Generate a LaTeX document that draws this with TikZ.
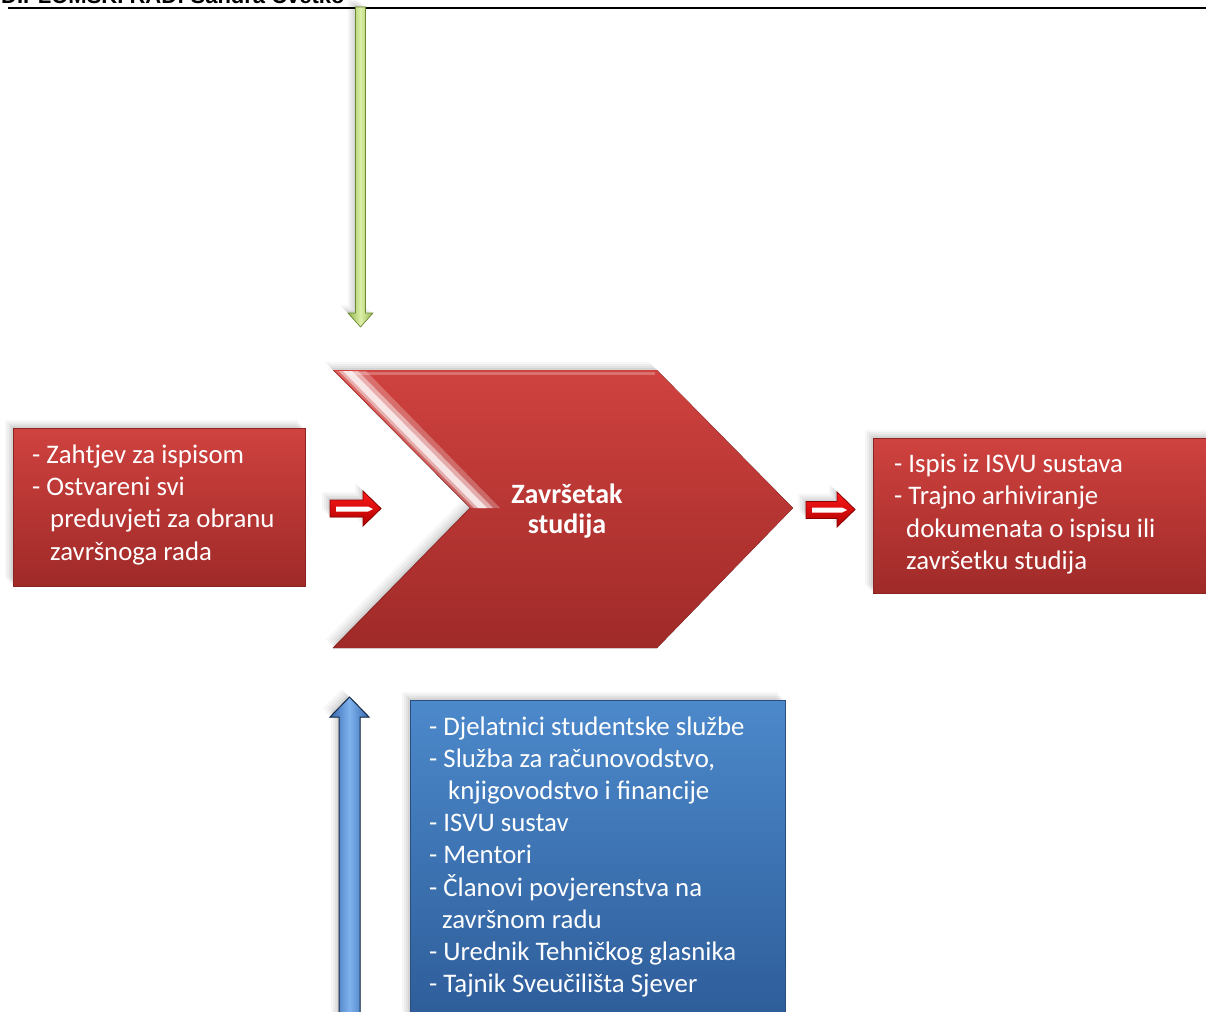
\documentclass[tikz,border=0pt]{standalone}
\usepackage{fontspec}
\setmainfont{Carlito}
\newfontfamily\zaglavlje{Liberation Sans}
\usetikzlibrary{shadows}
\definecolor{crvenagore}{HTML}{CF423F}
\definecolor{crvenadolje}{HTML}{9F2A28}
\definecolor{crvenarub}{HTML}{8C2422}
\definecolor{plavagore}{HTML}{4C89CB}
\definecolor{plavadolje}{HTML}{2C5A96}
\definecolor{plavarub}{HTML}{284F80}
\definecolor{zelena}{HTML}{92B84A}
\definecolor{zelenasvijetla}{HTML}{DDEFA8}
\definecolor{zelenatamna}{HTML}{6B8A30}
\definecolor{plava}{HTML}{3467AD}
\definecolor{plavasvijetla}{HTML}{7FB3EE}
\definecolor{plavatamna}{HTML}{182B48}
\definecolor{jarkocrvena}{HTML}{FF1A1A}
\definecolor{tamnocrvena}{HTML}{B00000}
\tikzset{
	sjena/.style={
		general shadow={fill=black,opacity=.06,shadow xshift=-2pt,shadow yshift=2pt},
		general shadow={fill=black,opacity=.05,shadow xshift=-4pt,shadow yshift=4pt},
		general shadow={fill=black,opacity=.04,shadow xshift=-6pt,shadow yshift=6pt},
		general shadow={fill=black,opacity=.03,shadow xshift=-8pt,shadow yshift=8pt}},
	crvenakutija/.style={rectangle,inner sep=0pt,top color=crvenagore,bottom color=crvenadolje,draw=crvenarub,line width=.8pt,sjena},
	plavakutija/.style={rectangle,inner sep=0pt,top color=plavagore,bottom color=plavadolje,draw=plavarub,line width=.8pt,sjena},
	tekst/.style={anchor=base west,inner sep=0pt,text=white,font=\fontsize{26.8}{32.3}\selectfont},
	malastrelica/.style={top color=jarkocrvena,bottom color=tamnocrvena,draw=tamnocrvena!80!black,line width=.8pt,line join=miter,sjena}
}
\begin{document}
\begin{tikzpicture}[x=1pt,y=-1pt]
	\useasboundingbox (0,0) rectangle (1206,1011);
	\node[anchor=base west,inner sep=0pt,font=\zaglavlje\bfseries\fontsize{22}{26}\selectfont] (naslov) at (1,4) {DIPLOMSKI RAD: Sandra Cvetko};
	\draw[line width=2pt] (8,8.5) -- (1206,8.5);

	\fill[left color=zelena,right color=zelena,middle color=zelenasvijetla,draw=zelenatamna,line width=.6pt,sjena]
		(355.5,7) -- (365.5,7) -- (365.5,313) -- (373,313) -- (360.5,327) -- (348,313) -- (355.5,313) -- cycle;

	\fill[top color=crvenagore,bottom color=crvenadolje,sjena]
		(333,370) -- (657,370) -- (793,508) -- (657,648) -- (333,648) -- (470,508) -- cycle;
	\fill[white,opacity=.25] (336,371) -- (366,371) -- (500,508) -- (471,508) -- cycle;
	\fill[white,opacity=.45] (339,371) -- (358,371) -- (493,508) -- (474,508) -- cycle;
	\fill[white,opacity=.7] (343,371) -- (352,371) -- (487,508) -- (478,508) -- cycle;
	\draw[white,opacity=.25,line width=3pt] (350,373) -- (655,373);
	\draw[crvenarub,opacity=.6,line width=1pt] (470,508) -- (333,648);
	\node[align=center,text=white,font=\bfseries\fontsize{28}{30}\selectfont] (proces) at (567,511) {Završetak\\studija};

	\node[crvenakutija,minimum width=292pt,minimum height=158pt] (ulaz) at (159,507) {};
	\foreach \x/\t [count=\i from 0] in {32/{- Zahtjev za ispisom},32/{- Ostvareni svi},50/{preduvjeti za obranu},50/{završnoga rada}}
	{
		\node[tekst] (ulaz\i) at (\x,463.3+32.3*\i) {\t};
	}

	\node[crvenakutija,minimum width=360pt,minimum height=155pt] (izlaz) at (1053,515.5) {};
	\foreach \x/\t [count=\i from 0] in {894/{- Ispis iz ISVU sustava},894/{- Trajno arhiviranje},906/{dokumenata o ispisu ili},906/{završetku studija}}
	{
		\node[tekst] (izlaz\i) at (\x,472.3+32.5*\i) {\t};
	}

	\node[plavakutija,minimum width=375pt,minimum height=340pt] (resursi) at (597.5,870) {};
	\foreach \x/\t [count=\i from 0] in {429/{- Djelatnici studentske službe},429/{- Služba za računovodstvo,},448/{knjigovodstvo i financije},429/{- ISVU sustav},429/{- Mentori},429/{- Članovi povjerenstva na},442/{završnom radu},429/{- Urednik Tehničkog glasnika},429/{- Tajnik Sveučilišta Sjever}}
	{
		\node[tekst] (resursi\i) at (\x,735+32.2*\i) {\t};
	}

	\fill[left color=plava,right color=plava,middle color=plavasvijetla,draw=plavatamna,line width=1pt,sjena]
		(339,1020) -- (339,717) -- (330,717) -- (349.5,697) -- (369,717) -- (360,717) -- (360,1020) -- cycle;

	\fill[malastrelica] (330,500) -- (363,500) -- (363,491) -- (381,508.5) -- (363,526) -- (363,517) -- (330,517) -- cycle;
	\fill[white] (336,506.5) -- (368,506.5) -- (373,509) -- (368,511.5) -- (336,511.5) -- cycle;
	\fill[malastrelica] (806,501.5) -- (837,501.5) -- (837,492) -- (855,509.5) -- (837,527) -- (837,518.5) -- (806,518.5) -- cycle;
	\fill[white] (812,507.5) -- (842,507.5) -- (847,510) -- (842,512.5) -- (812,512.5) -- cycle;
\end{tikzpicture}
\end{document}
